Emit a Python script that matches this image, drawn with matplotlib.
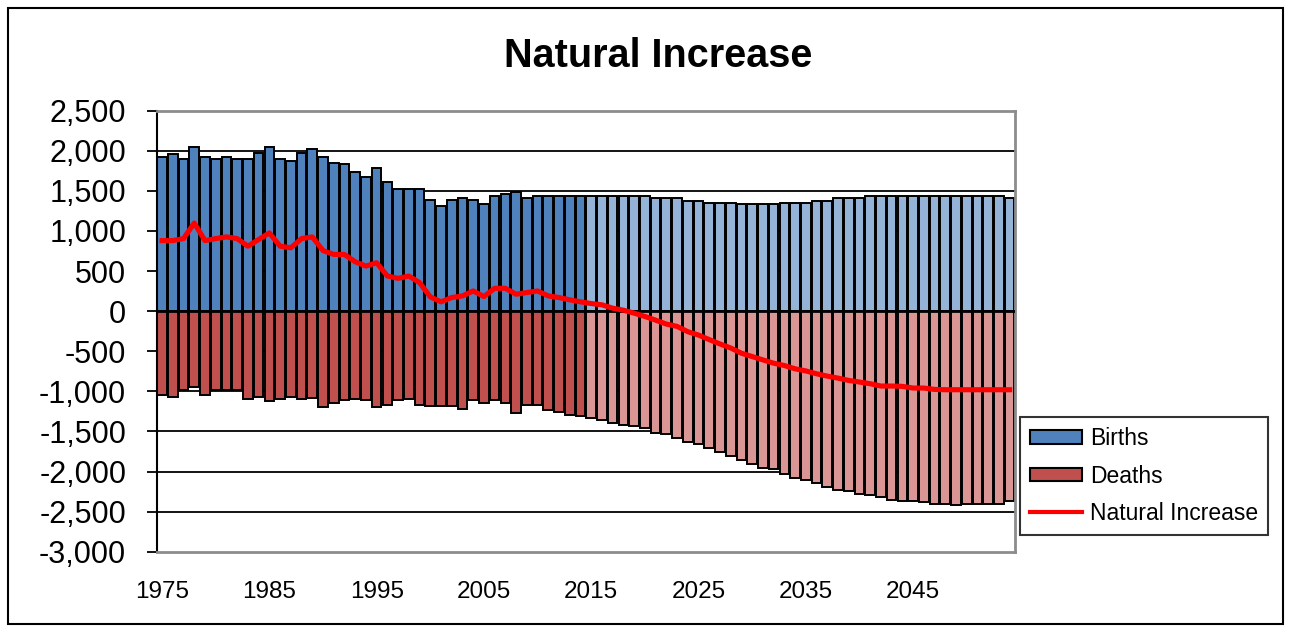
import matplotlib
matplotlib.use("Agg")
import matplotlib.pyplot as plt
from matplotlib.patches import Patch, Rectangle
from matplotlib.lines import Line2D
from matplotlib.ticker import FuncFormatter
import numpy as np

plt.rcParams['font.family'] = ['Liberation Sans', 'DejaVu Sans']

years = list(range(1975, 2055))
first_projected_year = 2015

births = [1918, 1955, 1901, 2050, 1926, 1901, 1926, 1901, 1901, 1976,
          2050, 1901, 1872, 1976, 2021, 1926, 1851, 1831, 1732, 1678,
          1782, 1608, 1525, 1525, 1525, 1389, 1314, 1389, 1410, 1389,
          1339, 1430, 1459, 1492, 1410, 1438, 1438, 1438, 1438, 1438,
          1430, 1430, 1430, 1430, 1430, 1430, 1405, 1405, 1405, 1380,
          1380, 1355, 1355, 1355, 1335, 1335, 1335, 1335, 1355, 1355,
          1355, 1380, 1380, 1405, 1405, 1405, 1430, 1430, 1430, 1430,
          1430, 1430, 1430, 1430, 1430, 1430, 1430, 1430, 1430, 1405]

deaths = [-1042, -1070, -988, -946, -1042, -988, -988, -988, -1091, -1070,
          -1120, -1091, -1070, -1091, -1083, -1194, -1145, -1112, -1091, -1112,
          -1194, -1166, -1112, -1091, -1166, -1187, -1187, -1187, -1215, -1112,
          -1141, -1112, -1141, -1269, -1166, -1166, -1236, -1257, -1290, -1310,
          -1331, -1360, -1389, -1414, -1434, -1463, -1517, -1538, -1587, -1637,
          -1658, -1711, -1761, -1807, -1856, -1906, -1959, -1972, -2030, -2083,
          -2104, -2145, -2199, -2228, -2248, -2278, -2298, -2323, -2352, -2372,
          -2372, -2381, -2402, -2402, -2422, -2402, -2402, -2402, -2402, -2372]

natural_increase = [880, 880, 905, 1099, 880, 905, 926, 905, 810, 893,
                    976, 810, 790, 905, 926, 756, 707, 707, 616, 562,
                    604, 438, 409, 438, 356, 178, 116, 170, 190, 252,
                    182, 285, 285, 211, 232, 252, 190, 170, 141, 116,
                    95, 79, 37, 12, -25, -66, -112, -161, -190, -256,
                    -298, -355, -409, -459, -525, -566, -608, -649, -678, -719,
                    -745, -781, -810, -835, -864, -884, -905, -934, -934, -938,
                    -959, -959, -976, -980, -980, -980, -980, -980, -980, -980]

x_labels = ['1975', '1985', '1995', '2005', '2015', '2025', '2035', '2045']
y_ticks = list(range(-3000, 2501, 500))

W, H = 1291, 632
fig = plt.figure(figsize=(W / 100, H / 100), dpi=100)
fig.patch.set_facecolor('white')

left, right, top, bottom = 156.7, 1015, 110.7, 551.7
ax = fig.add_axes([left / W, 1 - bottom / H, (right - left) / W, (bottom - top) / H])

x = np.arange(len(years))
proj = np.array([y >= first_projected_year for y in years])
b_col = np.where(proj, '#95B3D7', '#4F81BD')
d_col = np.where(proj, '#D99694', '#C0504D')

for v in y_ticks:
    if v not in (-3000, 2500, 0):
        ax.axhline(v, color='black', lw=1.3, zorder=0)

ax.bar(x, births, width=0.9, color=b_col, edgecolor='black', linewidth=1.4, zorder=2)
ax.bar(x, deaths, width=0.9, color=d_col, edgecolor='black', linewidth=1.4, zorder=2)
ax.axhline(0, color='black', lw=2, zorder=3)
ax.plot(x, natural_increase, color='#FF0000', lw=3.7, zorder=4, solid_joinstyle='round')

ax.set_xlim(-0.5, len(years) - 0.5)
ax.set_ylim(-3000, 2500)
ax.set_yticks(y_ticks)
ax.yaxis.set_major_formatter(FuncFormatter(lambda v, p: f'{int(v):,}'))
ax.tick_params(axis='y', labelsize=22, length=7, width=1.3, direction='out', pad=15, colors='black')

xt = [years.index(int(l)) for l in x_labels]
ax.set_xticks(xt)
ax.set_xticklabels(x_labels)
ax.tick_params(axis='x', labelsize=17.5, length=0, pad=21)

ax.spines['left'].set_color('black')
ax.spines['left'].set_linewidth(1.5)
for s in ('top', 'right', 'bottom'):
    ax.spines[s].set_color('#8C8C8C')
    ax.spines[s].set_linewidth(2)

fig.text(658 / W, 1 - 56 / H, 'Natural Increase', fontsize=28.5, fontweight='bold',
         ha='center', va='center')

handles = [Patch(facecolor='#4F81BD', edgecolor='black', linewidth=1.5),
           Patch(facecolor='#C0504D', edgecolor='black', linewidth=1.5),
           Line2D([0], [0], color='#FF0000', lw=3)]
leg = fig.legend(handles, ['Births', 'Deaths', 'Natural Increase'],
                 loc='upper left', bbox_to_anchor=(1020 / W, 1 - 417 / H),
                 borderaxespad=0, fontsize=16.5, frameon=True, fancybox=False,
                 handlelength=2.25, handleheight=0.55, labelspacing=0.62,
                 handletextpad=0.35, borderpad=0.45)
leg.get_frame().set_edgecolor('black')
leg.get_frame().set_linewidth(1.5)

fig.patches.append(Rectangle((8 / W, 1 - 624 / H), (1283 - 8) / W, (624 - 8) / H,
                             transform=fig.transFigure, fill=False,
                             edgecolor='black', linewidth=1.5))

fig.savefig('out.png', dpi=100, facecolor='white')
